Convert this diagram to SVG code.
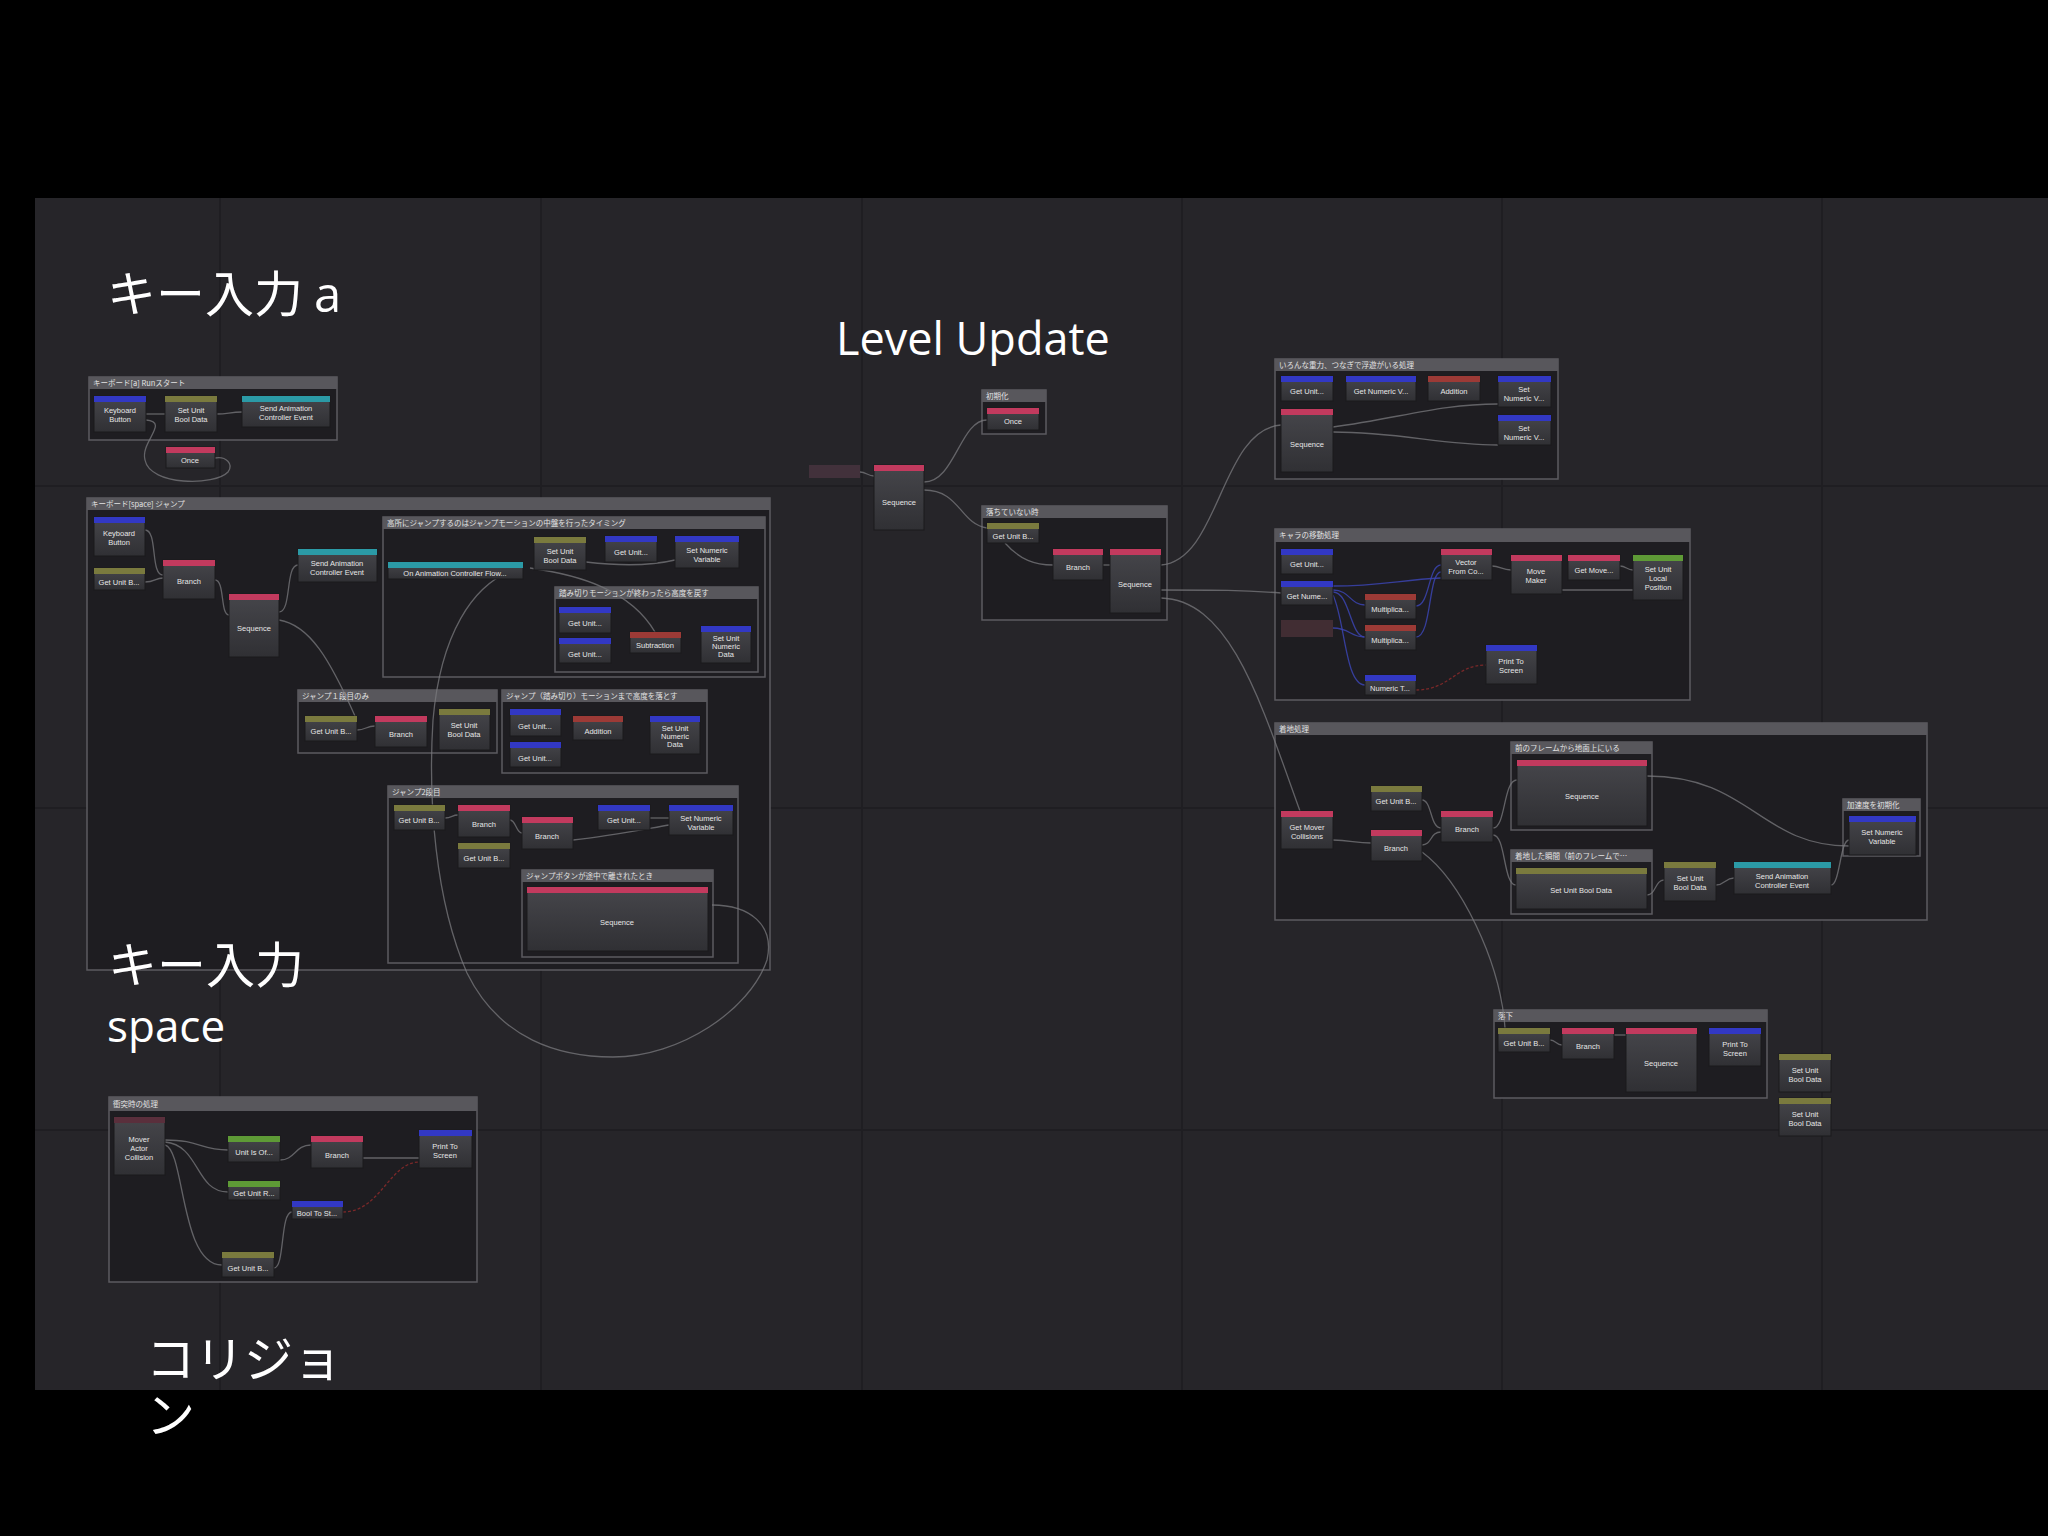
<svg xmlns="http://www.w3.org/2000/svg" width="2048" height="1536" viewBox="0 0 2048 1536">
<defs>
<linearGradient id="nb" x1="0" y1="0" x2="0" y2="1"><stop offset="0" stop-color="#46464b"/><stop offset="1" stop-color="#303034"/></linearGradient>
<style>
.nb{fill:url(#nb);stroke:#1a1a1c;stroke-width:1}
.b{fill:#3238c4}.o{fill:#7a7a3e}.t{fill:#2b9aa6}.p{fill:#c23a5e}.r{fill:#9c3a36}.g{fill:#5e9a36}
.gf{fill:#1e1d21;stroke:#5c5b60;stroke-width:1.5}
.gh{fill:#58575c}
.ht{font-family:"Noto Sans CJK JP","Liberation Sans",sans-serif;font-size:7.5px;fill:#e2e2e2}
.nt{font-family:"Liberation Sans",Arial,sans-serif;font-size:7.5px;fill:#e6e6e6;text-anchor:middle}
.c{fill:none;stroke:#7a7a7e;stroke-width:1.3;opacity:.75}
.cb{fill:none;stroke:#3b44b0;stroke-width:1.3;opacity:.85}
.cr{fill:none;stroke:#8a2a2a;stroke-width:1.3;stroke-dasharray:3 2;opacity:.85}
.grid{stroke:#1f1e22;stroke-width:2}
.big{font-family:"Noto Sans CJK JP","Noto Sans",sans-serif;font-size:49px;fill:#ffffff}
.lat{font-family:"Open Sans","Noto Sans",sans-serif;fill:#ffffff}
</style>
</defs>
<rect width="2048" height="1536" fill="#000000"/>
<rect x="35" y="198" width="2013" height="1192" fill="#262529"/>
<g id="grid">
<line class="grid" x1="220" y1="198" x2="220" y2="1390"/>
<line class="grid" x1="541" y1="198" x2="541" y2="1390"/>
<line class="grid" x1="862" y1="198" x2="862" y2="1390"/>
<line class="grid" x1="1182" y1="198" x2="1182" y2="1390"/>
<line class="grid" x1="1502" y1="198" x2="1502" y2="1390"/>
<line class="grid" x1="1822" y1="198" x2="1822" y2="1390"/>
<line class="grid" x1="35" y1="486" x2="2048" y2="486"/>
<line class="grid" x1="35" y1="808" x2="2048" y2="808"/>
<line class="grid" x1="35" y1="1130" x2="2048" y2="1130"/>
</g>

<!-- group frames -->
<g id="grp-key-a"><rect class="gf" x="89" y="377" width="248" height="63"/><rect class="gh" x="89" y="377" width="248" height="12"/><text class="ht" x="93" y="386">キーボード[a] Runスタート</text></g>
<g id="grp-key-space"><rect class="gf" x="87" y="498" width="683" height="472"/><rect class="gh" x="87" y="498" width="683" height="12"/><text class="ht" x="91" y="507">キーボード[space] ジャンプ</text></g>
<g id="grp-s1"><rect class="gf" x="383" y="517" width="382" height="160"/><rect class="gh" x="383" y="517" width="382" height="12"/><text class="ht" x="387" y="526">高所にジャンプするのはジャンプモーションの中盤を行ったタイミング</text></g>
<g id="grp-s1a"><rect class="gf" x="555" y="587" width="203" height="85"/><rect class="gh" x="555" y="587" width="203" height="12"/><text class="ht" x="559" y="596">踏み切りモーションが終わったら高度を戻す</text></g>
<g id="grp-s2"><rect class="gf" x="298" y="690" width="199" height="63"/><rect class="gh" x="298" y="690" width="199" height="12"/><text class="ht" x="302" y="699">ジャンプ１段目のみ</text></g>
<g id="grp-s3"><rect class="gf" x="502" y="690" width="205" height="83"/><rect class="gh" x="502" y="690" width="205" height="12"/><text class="ht" x="506" y="699">ジャンプ（踏み切り）モーションまで高度を落とす</text></g>
<g id="grp-s4"><rect class="gf" x="388" y="786" width="350" height="177"/><rect class="gh" x="388" y="786" width="350" height="12"/><text class="ht" x="392" y="795">ジャンプ2段目</text></g>
<g id="grp-s4a"><rect class="gf" x="522" y="870" width="191" height="87"/><rect class="gh" x="522" y="870" width="191" height="12"/><text class="ht" x="526" y="879">ジャンプボタンが途中で離されたとき</text></g>
<g id="grp-init"><rect class="gf" x="982" y="390" width="64" height="44"/><rect class="gh" x="982" y="390" width="64" height="12"/><text class="ht" x="986" y="399">初期化</text></g>
<g id="grp-notfall"><rect class="gf" x="982" y="506" width="185" height="114"/><rect class="gh" x="982" y="506" width="185" height="12"/><text class="ht" x="986" y="515">落ちていない時</text></g>
<g id="grp-gravity"><rect class="gf" x="1275" y="359" width="283" height="120"/><rect class="gh" x="1275" y="359" width="283" height="12"/><text class="ht" x="1279" y="368">いろんな重力、つなぎで浮遊がいる処理</text></g>
<g id="grp-move"><rect class="gf" x="1275" y="529" width="415" height="171"/><rect class="gh" x="1275" y="529" width="415" height="13"/><text class="ht" x="1279" y="538">キャラの移動処理</text></g>
<g id="grp-land"><rect class="gf" x="1275" y="723" width="652" height="197"/><rect class="gh" x="1275" y="723" width="652" height="12"/><text class="ht" x="1279" y="732">着地処理</text></g>
<g id="grp-land-a"><rect class="gf" x="1511" y="742" width="141" height="88"/><rect class="gh" x="1511" y="742" width="141" height="12"/><text class="ht" x="1515" y="751">前のフレームから地面上にいる</text></g>
<g id="grp-land-b"><rect class="gf" x="1511" y="850" width="141" height="64"/><rect class="gh" x="1511" y="850" width="141" height="12"/><text class="ht" x="1515" y="859">着地した瞬間（前のフレームで…</text></g>
<g id="grp-land-c"><rect class="gf" x="1843" y="799" width="77" height="57"/><rect class="gh" x="1843" y="799" width="77" height="12"/><text class="ht" x="1847" y="808">加速度を初期化</text></g>
<g id="grp-fall"><rect class="gf" x="1494" y="1010" width="273" height="88"/><rect class="gh" x="1494" y="1010" width="273" height="12"/><text class="ht" x="1498" y="1019">落下</text></g>
<g id="grp-coll"><rect class="gf" x="109" y="1097" width="368" height="185"/><rect class="gh" x="109" y="1097" width="368" height="14"/><text class="ht" x="113" y="1107">衝突時の処理</text></g>

<!-- connectors -->
<g id="connectors">
<path class="c" d="M146,414 C155,414 156,414 165,414"/>
<path class="c" d="M217,414 C228,414 230,412 242,412"/>
<path class="c" d="M146,420 C170,422 140,442 145,460 C150,486 215,486 228,472 C234,464 226,456 215,458"/>
<path class="c" d="M145,530 C158,530 150,575 163,575"/>
<path class="c" d="M145,582 C155,582 155,578 163,578"/>
<path class="c" d="M215,580 C225,580 220,615 229,615"/>
<path class="c" d="M279,612 C292,612 285,565 298,565"/>
<path class="c" d="M279,620 C310,625 330,660 355,716"/>
<path class="c" d="M523,567 C470,580 440,640 433,720 C428,800 435,900 467,973 C500,1040 560,1057 613,1057 C680,1057 750,1010 767,960 C775,925 750,905 712,905"/>
<path class="c" d="M530,568 C580,575 630,590 655,632"/>
<path class="c" d="M586,562 C620,566 650,566 675,560"/>
<path class="c" d="M357,730 C366,730 366,726 375,726"/>
<path class="c" d="M445,818 C452,818 452,815 458,815"/>
<path class="c" d="M510,820 C516,820 516,833 522,833"/>
<path class="c" d="M573,840 C610,836 640,830 669,825"/>
<path class="c" d="M650,818 C658,818 660,818 669,818"/>
<path class="c" d="M860,472 C866,472 868,476 874,476"/>
<path class="c" d="M924,482 C955,482 960,420 987,420"/>
<path class="c" d="M924,490 C960,490 960,524 987,528"/>
<path class="c" d="M1005,543 C1020,560 1035,565 1053,565"/>
<path class="c" d="M1103,565 C1106,565 1107,565 1110,565"/>
<path class="c" d="M1161,565 C1220,560 1220,430 1281,425"/>
<path class="c" d="M1161,590 C1220,590 1240,590 1281,593"/>
<path class="c" d="M1161,598 C1230,600 1260,700 1300,811"/>
<path class="c" d="M1422,852 C1460,880 1500,960 1505,1028"/>
<path class="c" d="M1333,427 C1400,418 1440,404 1498,404"/>
<path class="c" d="M1333,432 C1400,432 1440,445 1498,445"/>
<path class="cb" d="M1333,590 C1350,590 1350,605 1365,605"/>
<path class="cb" d="M1333,592 C1350,592 1350,637 1365,637"/>
<path class="cb" d="M1333,595 C1345,620 1345,685 1365,685"/>
<path class="cb" d="M1333,628 C1350,628 1350,637 1365,637"/>
<path class="cb" d="M1416,606 C1430,606 1428,565 1441,565"/>
<path class="cb" d="M1416,637 C1432,637 1428,572 1441,572"/>
<path class="cb" d="M1333,586 C1380,586 1400,580 1441,578"/>
<path class="c" d="M1492,566 C1500,566 1502,570 1511,570"/>
<path class="c" d="M1562,590 C1590,590 1610,590 1633,590"/>
<path class="c" d="M1620,566 C1626,566 1627,570 1633,570"/>
<path class="cr" d="M1416,690 C1450,690 1455,665 1486,665"/>
<path class="c" d="M1333,840 C1350,840 1355,843 1371,843"/>
<path class="c" d="M1422,800 C1432,800 1430,828 1441,828"/>
<path class="c" d="M1422,845 C1432,845 1430,832 1441,832"/>
<path class="c" d="M1493,828 C1506,828 1503,780 1517,780"/>
<path class="c" d="M1493,835 C1506,835 1503,885 1516,885"/>
<path class="c" d="M1647,776 C1750,776 1760,846 1849,846"/>
<path class="c" d="M1647,895 C1656,895 1655,880 1664,880"/>
<path class="c" d="M1716,885 C1725,885 1725,878 1734,878"/>
<path class="c" d="M1831,885 C1840,885 1840,840 1849,840"/>
<path class="c" d="M1550,1040 C1556,1040 1556,1045 1562,1045"/>
<path class="c" d="M1614,1035 C1620,1035 1620,1035 1626,1035"/>
<path class="c" d="M165,1140 C200,1140 200,1150 228,1150"/>
<path class="c" d="M165,1142 C200,1145 195,1192 228,1192"/>
<path class="c" d="M165,1145 C185,1150 180,1265 222,1265"/>
<path class="c" d="M280,1160 C295,1160 295,1145 311,1145"/>
<path class="c" d="M363,1158 C390,1158 395,1158 419,1158"/>
<path class="c" d="M274,1268 C285,1268 280,1212 292,1212"/>
<path class="cr" d="M343,1212 C380,1212 390,1162 419,1162"/>
</g>

<!-- nodes -->
<g id="n-kb-a"><rect class="nb" x="94" y="396" width="52" height="36"/><rect class="b" x="94" y="396" width="52" height="6"/><text class="nt" x="120" y="413">Keyboard<tspan x="120" dy="9">Button</tspan></text></g>
<g id="n-setbool-a"><rect class="nb" x="165" y="396" width="52" height="36"/><rect class="o" x="165" y="396" width="52" height="6"/><text class="nt" x="191" y="413">Set Unit<tspan x="191" dy="9">Bool Data</tspan></text></g>
<g id="n-sendanim-a"><rect class="nb" x="242" y="396" width="88" height="31"/><rect class="t" x="242" y="396" width="88" height="6"/><text class="nt" x="286" y="411">Send Animation<tspan x="286" dy="9">Controller Event</tspan></text></g>
<g id="n-once-a"><rect class="nb" x="166" y="447" width="49" height="21"/><rect class="p" x="166" y="447" width="49" height="6"/><text class="nt" x="190" y="463">Once</text></g>

<g id="n-kb-sp"><rect class="nb" x="94" y="517" width="51" height="39"/><rect class="b" x="94" y="517" width="51" height="6"/><text class="nt" x="119" y="536">Keyboard<tspan x="119" dy="9">Button</tspan></text></g>
<g id="n-getb-sp"><rect class="nb" x="94" y="568" width="51" height="22"/><rect class="o" x="94" y="568" width="51" height="6"/><text class="nt" x="119" y="585">Get Unit B...</text></g>
<g id="n-branch-sp"><rect class="nb" x="163" y="560" width="52" height="39"/><rect class="p" x="163" y="560" width="52" height="6"/><text class="nt" x="189" y="584">Branch</text></g>
<g id="n-seq-sp"><rect class="nb" x="229" y="594" width="50" height="63"/><rect class="p" x="229" y="594" width="50" height="6"/><text class="nt" x="254" y="631">Sequence</text></g>
<g id="n-sendanim-sp"><rect class="nb" x="298" y="549" width="79" height="33"/><rect class="t" x="298" y="549" width="79" height="6"/><text class="nt" x="337" y="566">Send Animation<tspan x="337" dy="9">Controller Event</tspan></text></g>

<g id="n-onanim"><rect class="nb" x="388" y="562" width="135" height="17"/><rect class="t" x="388" y="562" width="135" height="6"/><text class="nt" x="455" y="576">On Animation Controller Flow...</text></g>
<g id="n-s1-setbool"><rect class="nb" x="534" y="537" width="52" height="33"/><rect class="o" x="534" y="537" width="52" height="6"/><text class="nt" x="560" y="554">Set Unit<tspan x="560" dy="9">Bool Data</tspan></text></g>
<g id="n-s1-getunit"><rect class="nb" x="605" y="536" width="52" height="26"/><rect class="b" x="605" y="536" width="52" height="6"/><text class="nt" x="631" y="555">Get Unit...</text></g>
<g id="n-s1-setnum"><rect class="nb" x="675" y="536" width="64" height="32"/><rect class="b" x="675" y="536" width="64" height="6"/><text class="nt" x="707" y="553">Set Numeric<tspan x="707" dy="9">Variable</tspan></text></g>
<g id="n-s1a-get1"><rect class="nb" x="559" y="607" width="52" height="26"/><rect class="b" x="559" y="607" width="52" height="6"/><text class="nt" x="585" y="626">Get Unit...</text></g>
<g id="n-s1a-get2"><rect class="nb" x="559" y="638" width="52" height="25"/><rect class="b" x="559" y="638" width="52" height="6"/><text class="nt" x="585" y="657">Get Unit...</text></g>
<g id="n-s1a-sub"><rect class="nb" x="630" y="632" width="51" height="21"/><rect class="r" x="630" y="632" width="51" height="6"/><text class="nt" x="655" y="648">Subtraction</text></g>
<g id="n-s1a-setnum"><rect class="nb" x="701" y="626" width="50" height="37"/><rect class="b" x="701" y="626" width="50" height="6"/><text class="nt" x="726" y="641">Set Unit<tspan x="726" dy="8">Numeric</tspan><tspan x="726" dy="8">Data</tspan></text></g>

<g id="n-s2-getb"><rect class="nb" x="305" y="716" width="52" height="25"/><rect class="o" x="305" y="716" width="52" height="6"/><text class="nt" x="331" y="734">Get Unit B...</text></g>
<g id="n-s2-branch"><rect class="nb" x="375" y="716" width="52" height="31"/><rect class="p" x="375" y="716" width="52" height="6"/><text class="nt" x="401" y="737">Branch</text></g>
<g id="n-s2-setbool"><rect class="nb" x="439" y="709" width="51" height="41"/><rect class="o" x="439" y="709" width="51" height="6"/><text class="nt" x="464" y="728">Set Unit<tspan x="464" dy="9">Bool Data</tspan></text></g>

<g id="n-s3-get1"><rect class="nb" x="510" y="709" width="51" height="27"/><rect class="b" x="510" y="709" width="51" height="6"/><text class="nt" x="535" y="729">Get Unit...</text></g>
<g id="n-s3-get2"><rect class="nb" x="510" y="742" width="51" height="25"/><rect class="b" x="510" y="742" width="51" height="6"/><text class="nt" x="535" y="761">Get Unit...</text></g>
<g id="n-s3-add"><rect class="nb" x="573" y="716" width="50" height="24"/><rect class="r" x="573" y="716" width="50" height="6"/><text class="nt" x="598" y="734">Addition</text></g>
<g id="n-s3-setnum"><rect class="nb" x="650" y="716" width="50" height="38"/><rect class="b" x="650" y="716" width="50" height="6"/><text class="nt" x="675" y="731">Set Unit<tspan x="675" dy="8">Numeric</tspan><tspan x="675" dy="8">Data</tspan></text></g>

<g id="n-s4-getb1"><rect class="nb" x="394" y="805" width="51" height="25"/><rect class="o" x="394" y="805" width="51" height="6"/><text class="nt" x="419" y="823">Get Unit B...</text></g>
<g id="n-s4-branch1"><rect class="nb" x="458" y="805" width="52" height="32"/><rect class="p" x="458" y="805" width="52" height="6"/><text class="nt" x="484" y="827">Branch</text></g>
<g id="n-s4-getb2"><rect class="nb" x="458" y="843" width="52" height="25"/><rect class="o" x="458" y="843" width="52" height="6"/><text class="nt" x="484" y="861">Get Unit B...</text></g>
<g id="n-s4-branch2"><rect class="nb" x="522" y="817" width="51" height="32"/><rect class="p" x="522" y="817" width="51" height="6"/><text class="nt" x="547" y="839">Branch</text></g>
<g id="n-s4-getunit"><rect class="nb" x="598" y="805" width="52" height="25"/><rect class="b" x="598" y="805" width="52" height="6"/><text class="nt" x="624" y="823">Get Unit...</text></g>
<g id="n-s4-setnum"><rect class="nb" x="669" y="805" width="64" height="30"/><rect class="b" x="669" y="805" width="64" height="6"/><text class="nt" x="701" y="821">Set Numeric<tspan x="701" dy="9">Variable</tspan></text></g>
<g id="n-s4a-seq"><rect class="nb" x="527" y="887" width="181" height="64"/><rect class="p" x="527" y="887" width="181" height="6"/><text class="nt" x="617" y="925">Sequence</text></g>

<g id="n-lu-in"><rect x="809" y="465" width="51" height="13" fill="#4a3440" opacity=".8"/></g>
<g id="n-lu-seq"><rect class="nb" x="874" y="465" width="50" height="65"/><rect class="p" x="874" y="465" width="50" height="6"/><text class="nt" x="899" y="505">Sequence</text></g>
<g id="n-init-once"><rect class="nb" x="987" y="408" width="52" height="22"/><rect class="p" x="987" y="408" width="52" height="6"/><text class="nt" x="1013" y="424">Once</text></g>
<g id="n-nf-getb"><rect class="nb" x="987" y="523" width="52" height="20"/><rect class="o" x="987" y="523" width="52" height="6"/><text class="nt" x="1013" y="539">Get Unit B...</text></g>
<g id="n-nf-branch"><rect class="nb" x="1053" y="549" width="50" height="31"/><rect class="p" x="1053" y="549" width="50" height="6"/><text class="nt" x="1078" y="570">Branch</text></g>
<g id="n-nf-seq"><rect class="nb" x="1110" y="549" width="51" height="64"/><rect class="p" x="1110" y="549" width="51" height="6"/><text class="nt" x="1135" y="587">Sequence</text></g>

<g id="n-gr-getunit"><rect class="nb" x="1281" y="376" width="52" height="25"/><rect class="b" x="1281" y="376" width="52" height="6"/><text class="nt" x="1307" y="394">Get Unit...</text></g>
<g id="n-gr-getnum"><rect class="nb" x="1346" y="376" width="70" height="25"/><rect class="b" x="1346" y="376" width="70" height="6"/><text class="nt" x="1381" y="394">Get Numeric V...</text></g>
<g id="n-gr-add"><rect class="nb" x="1428" y="376" width="52" height="25"/><rect class="r" x="1428" y="376" width="52" height="6"/><text class="nt" x="1454" y="394">Addition</text></g>
<g id="n-gr-set1"><rect class="nb" x="1498" y="376" width="53" height="31"/><rect class="b" x="1498" y="376" width="53" height="6"/><text class="nt" x="1524" y="392">Set<tspan x="1524" dy="9">Numeric V...</tspan></text></g>
<g id="n-gr-set2"><rect class="nb" x="1498" y="415" width="53" height="30"/><rect class="b" x="1498" y="415" width="53" height="6"/><text class="nt" x="1524" y="431">Set<tspan x="1524" dy="9">Numeric V...</tspan></text></g>
<g id="n-gr-seq"><rect class="nb" x="1281" y="409" width="52" height="63"/><rect class="p" x="1281" y="409" width="52" height="6"/><text class="nt" x="1307" y="447">Sequence</text></g>

<g id="n-mv-getunit"><rect class="nb" x="1281" y="549" width="52" height="25"/><rect class="b" x="1281" y="549" width="52" height="6"/><text class="nt" x="1307" y="567">Get Unit...</text></g>
<g id="n-mv-getnum"><rect class="nb" x="1281" y="581" width="52" height="24"/><rect class="b" x="1281" y="581" width="52" height="6"/><text class="nt" x="1307" y="599">Get Nume...</text></g>
<g id="n-mv-faded"><rect x="1281" y="620" width="52" height="17" fill="#4a3238" opacity=".8"/></g>
<g id="n-mv-mul1"><rect class="nb" x="1365" y="594" width="51" height="25"/><rect class="r" x="1365" y="594" width="51" height="6"/><text class="nt" x="1390" y="612">Multiplica...</text></g>
<g id="n-mv-mul2"><rect class="nb" x="1365" y="625" width="51" height="25"/><rect class="r" x="1365" y="625" width="51" height="6"/><text class="nt" x="1390" y="643">Multiplica...</text></g>
<g id="n-mv-numt"><rect class="nb" x="1365" y="675" width="51" height="20"/><rect class="b" x="1365" y="675" width="51" height="6"/><text class="nt" x="1390" y="691">Numeric T...</text></g>
<g id="n-mv-vec"><rect class="nb" x="1441" y="549" width="51" height="31"/><rect class="p" x="1441" y="549" width="51" height="6"/><text class="nt" x="1466" y="565">Vector<tspan x="1466" dy="9">From Co...</tspan></text></g>
<g id="n-mv-move"><rect class="nb" x="1511" y="555" width="51" height="39"/><rect class="p" x="1511" y="555" width="51" height="6"/><text class="nt" x="1536" y="574">Move<tspan x="1536" dy="9">Maker</tspan></text></g>
<g id="n-mv-getmove"><rect class="nb" x="1568" y="555" width="52" height="25"/><rect class="p" x="1568" y="555" width="52" height="6"/><text class="nt" x="1594" y="573">Get Move...</text></g>
<g id="n-mv-setpos"><rect class="nb" x="1633" y="555" width="50" height="45"/><rect class="g" x="1633" y="555" width="50" height="6"/><text class="nt" x="1658" y="572">Set Unit<tspan x="1658" dy="9">Local</tspan><tspan x="1658" dy="9">Position</tspan></text></g>
<g id="n-mv-print"><rect class="nb" x="1486" y="645" width="51" height="39"/><rect class="b" x="1486" y="645" width="51" height="6"/><text class="nt" x="1511" y="664">Print To<tspan x="1511" dy="9">Screen</tspan></text></g>

<g id="n-ld-coll"><rect class="nb" x="1281" y="811" width="52" height="38"/><rect class="p" x="1281" y="811" width="52" height="6"/><text class="nt" x="1307" y="830">Get Mover<tspan x="1307" dy="9">Collisions</tspan></text></g>
<g id="n-ld-getb"><rect class="nb" x="1371" y="786" width="51" height="25"/><rect class="o" x="1371" y="786" width="51" height="6"/><text class="nt" x="1396" y="804">Get Unit B...</text></g>
<g id="n-ld-branch1"><rect class="nb" x="1371" y="830" width="51" height="31"/><rect class="p" x="1371" y="830" width="51" height="6"/><text class="nt" x="1396" y="851">Branch</text></g>
<g id="n-ld-branch2"><rect class="nb" x="1441" y="811" width="52" height="31"/><rect class="p" x="1441" y="811" width="52" height="6"/><text class="nt" x="1467" y="832">Branch</text></g>
<g id="n-ld-seq"><rect class="nb" x="1517" y="760" width="130" height="66"/><rect class="p" x="1517" y="760" width="130" height="6"/><text class="nt" x="1582" y="799">Sequence</text></g>
<g id="n-ld-setbool1"><rect class="nb" x="1516" y="868" width="131" height="41"/><rect class="o" x="1516" y="868" width="131" height="6"/><text class="nt" x="1581" y="893">Set Unit Bool Data</text></g>
<g id="n-ld-setbool2"><rect class="nb" x="1664" y="862" width="52" height="39"/><rect class="o" x="1664" y="862" width="52" height="6"/><text class="nt" x="1690" y="881">Set Unit<tspan x="1690" dy="9">Bool Data</tspan></text></g>
<g id="n-ld-sendanim"><rect class="nb" x="1734" y="862" width="97" height="32"/><rect class="t" x="1734" y="862" width="97" height="6"/><text class="nt" x="1782" y="879">Send Animation<tspan x="1782" dy="9">Controller Event</tspan></text></g>
<g id="n-ld-setnum"><rect class="nb" x="1849" y="816" width="67" height="39"/><rect class="b" x="1849" y="816" width="67" height="6"/><text class="nt" x="1882" y="835">Set Numeric<tspan x="1882" dy="9">Variable</tspan></text></g>

<g id="n-fl-getb"><rect class="nb" x="1498" y="1028" width="52" height="24"/><rect class="o" x="1498" y="1028" width="52" height="6"/><text class="nt" x="1524" y="1046">Get Unit B...</text></g>
<g id="n-fl-branch"><rect class="nb" x="1562" y="1028" width="52" height="31"/><rect class="p" x="1562" y="1028" width="52" height="6"/><text class="nt" x="1588" y="1049">Branch</text></g>
<g id="n-fl-seq"><rect class="nb" x="1626" y="1028" width="71" height="64"/><rect class="p" x="1626" y="1028" width="71" height="6"/><text class="nt" x="1661" y="1066">Sequence</text></g>
<g id="n-fl-print"><rect class="nb" x="1709" y="1028" width="52" height="38"/><rect class="b" x="1709" y="1028" width="52" height="6"/><text class="nt" x="1735" y="1047">Print To<tspan x="1735" dy="9">Screen</tspan></text></g>
<g id="n-fl-setbool1"><rect class="nb" x="1779" y="1054" width="52" height="38"/><rect class="o" x="1779" y="1054" width="52" height="6"/><text class="nt" x="1805" y="1073">Set Unit<tspan x="1805" dy="9">Bool Data</tspan></text></g>
<g id="n-fl-setbool2"><rect class="nb" x="1779" y="1098" width="52" height="38"/><rect class="o" x="1779" y="1098" width="52" height="6"/><text class="nt" x="1805" y="1117">Set Unit<tspan x="1805" dy="9">Bool Data</tspan></text></g>

<g id="n-co-mover"><rect class="nb" x="114" y="1117" width="51" height="58"/><rect x="114" y="1117" width="51" height="6" fill="#5a2f3c"/><text class="nt" x="139" y="1142">Mover<tspan x="139" dy="9">Actor</tspan><tspan x="139" dy="9">Collision</tspan></text></g>
<g id="n-co-unitis"><rect class="nb" x="228" y="1136" width="52" height="26"/><rect class="g" x="228" y="1136" width="52" height="6"/><text class="nt" x="254" y="1155">Unit Is Of...</text></g>
<g id="n-co-branch"><rect class="nb" x="311" y="1136" width="52" height="32"/><rect class="p" x="311" y="1136" width="52" height="6"/><text class="nt" x="337" y="1158">Branch</text></g>
<g id="n-co-print"><rect class="nb" x="419" y="1130" width="53" height="38"/><rect class="b" x="419" y="1130" width="53" height="6"/><text class="nt" x="445" y="1149">Print To<tspan x="445" dy="9">Screen</tspan></text></g>
<g id="n-co-getr"><rect class="nb" x="228" y="1181" width="52" height="19"/><rect class="g" x="228" y="1181" width="52" height="6"/><text class="nt" x="254" y="1196">Get Unit R...</text></g>
<g id="n-co-bool"><rect class="nb" x="292" y="1201" width="51" height="18"/><rect class="b" x="292" y="1201" width="51" height="6"/><text class="nt" x="317" y="1216">Bool To St...</text></g>
<g id="n-co-getb"><rect class="nb" x="222" y="1252" width="52" height="25"/><rect class="o" x="222" y="1252" width="52" height="6"/><text class="nt" x="248" y="1271">Get Unit B...</text></g>

<!-- big labels -->
<g id="labels">
<text class="big" x="107" y="312">キー入力 <tspan font-family="Open Sans, sans-serif">a</tspan></text>
<text class="lat" x="836" y="355" font-size="45">Level Update</text>
<text class="big"><tspan x="108" y="983">キー入力</tspan><tspan x="107" y="1042" font-family="Open Sans, sans-serif" font-size="44">space</tspan></text>
<text class="big"><tspan x="146" y="1377">コリジョ</tspan><tspan x="146" y="1433">ン</tspan></text>
</g>
</svg>
